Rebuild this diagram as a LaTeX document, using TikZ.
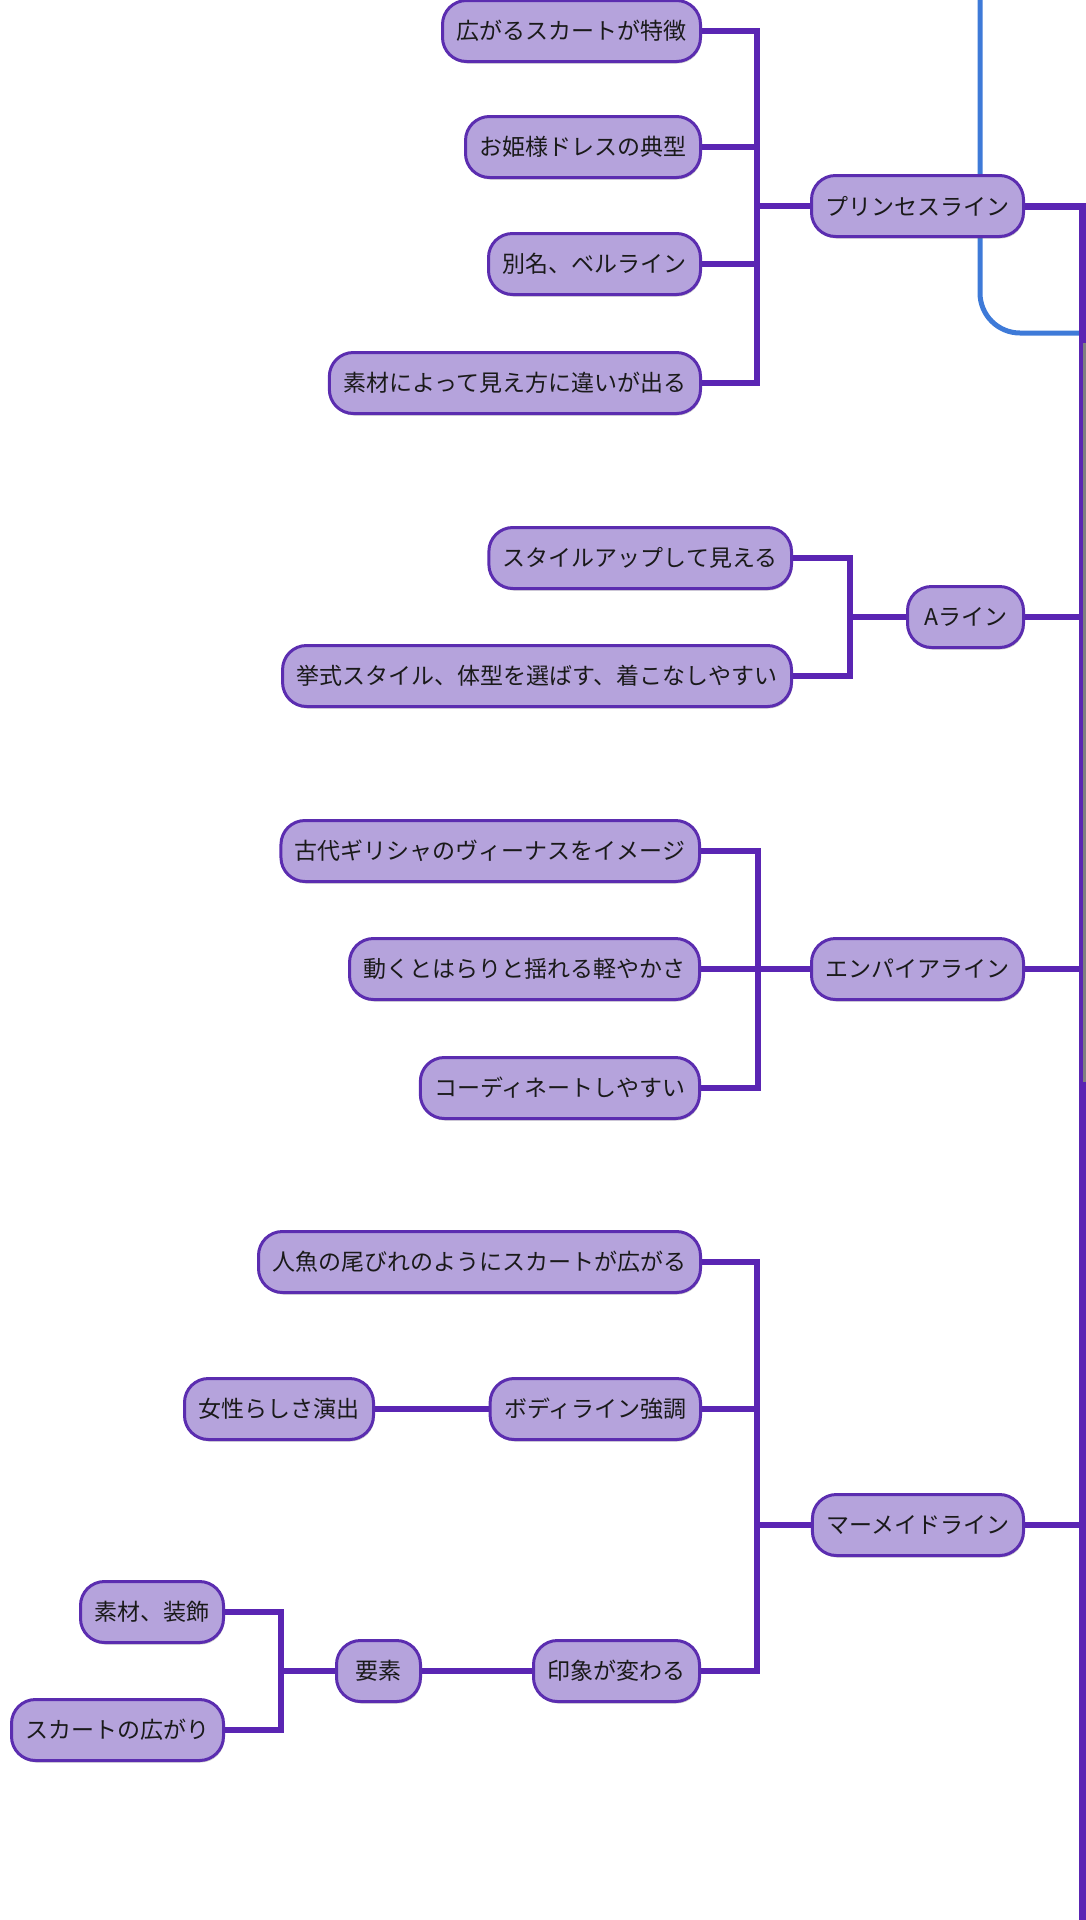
\documentclass[tikz,border=0pt]{standalone}
\usepackage{fontspec}
\setmainfont{Noto Sans CJK JP}
\usetikzlibrary{shadows,backgrounds}
\definecolor{fillc}{HTML}{B5A3DC}
\definecolor{bordc}{HTML}{5B2DB0}
\definecolor{linec}{HTML}{5A25B3}
\definecolor{bluec}{HTML}{3E7AD8}
\definecolor{txtc}{HTML}{1A1A1A}
\definecolor{stripc}{HTML}{808080}
\tikzset{
  nd/.style={rounded corners=24pt, draw=bordc, line width=3pt, fill=fillc,
    minimum height=61pt, inner xsep=14pt, inner ysep=0pt, text=txtc,
    font=\fontsize{23}{27}\selectfont, anchor=east,
    drop shadow={shadow xshift=1pt, shadow yshift=-2pt, opacity=0.35, fill=black!60}},
  br/.style={draw=linec, line width=6pt, line join=miter},
  trunk/.style={draw=linec, line width=7pt, line join=miter},
  blueln/.style={draw=bluec, line width=5pt, rounded corners=40pt}
}
\begin{document}
\begin{tikzpicture}[x=1pt,y=-1pt]
\useasboundingbox (0,0) rectangle (1085,1920);
% free-end coordinates
\coordinate (btop) at (980,-5);
\coordinate (bend) at (1082,333);
\coordinate (tb) at (1082,1925);
\coordinate (bp) at (757,206);
\coordinate (ba) at (850,617);
\coordinate (be) at (758,969);
\coordinate (bm) at (757,1525);
\coordinate (bx) at (281,1671);
% nodes
\node[nd] (pr) at (1025,206) {プリンセスライン};
\node[nd] (p1) at (702,31) {広がるスカートが特徴};
\node[nd] (p2) at (702,147) {お姫様ドレスの典型};
\node[nd] (p3) at (702,264) {別名、ベルライン};
\node[nd] (p4) at (702,383) {素材によって見え方に違いが出る};
\node[nd, minimum width=116pt, inner xsep=10pt] (al) at (1025,617) {Aライン};
\node[nd] (a1) at (793,558) {スタイルアップして見える};
\node[nd] (a2) at (793,676) {挙式スタイル、体型を選ばす、着こなしやすい};
\node[nd] (em) at (1025,969) {エンパイアライン};
\node[nd] (e1) at (701,851) {古代ギリシャのヴィーナスをイメージ};
\node[nd] (e2) at (701,969) {動くとはらりと揺れる軽やかさ};
\node[nd] (e3) at (701,1088) {コーディネートしやすい};
\node[nd] (mm) at (1025,1525) {マーメイドライン};
\node[nd] (m1) at (702,1262) {人魚の尾びれのようにスカートが広がる};
\node[nd] (m2) at (702,1409) {ボディライン強調};
\node[nd] (m2a) at (375,1409) {女性らしさ演出};
\node[nd] (m3) at (701,1671) {印象が変わる};
\node[nd, minimum width=84pt] (m3a) at (422,1671) {要素};
\node[nd] (m3a1) at (225,1612) {素材、装飾};
\node[nd] (m3a2) at (225,1730) {スカートの広がり};
% connectors behind nodes
\begin{scope}[on background layer]
  \draw[blueln] (btop) |- (bend);
  % trunk
  \draw[trunk] (pr.east) -| (tb);
  \draw[br] (al.east) -- (al.east -| tb);
  \draw[br] (em.east) -- (em.east -| tb);
  \draw[br] (mm.east) -- (mm.east -| tb);
  \fill[stripc] (1082.5,343) rectangle (1086,1082);
  % princess
  \draw[br] (pr.west) -- (bp);
  \draw[br] (p1.east) -| (bp);
  \draw[br] (p2.east) -| (bp);
  \draw[br] (p3.east) -| (bp);
  \draw[br] (p4.east) -| (bp);
  % A line
  \draw[br] (al.west) -- (ba);
  \draw[br] (a1.east) -| (ba);
  \draw[br] (a2.east) -| (ba);
  % empire
  \draw[br] (em.west) -- (be);
  \draw[br] (e1.east) -| (be);
  \draw[br] (e2.east) -| (be);
  \draw[br] (e3.east) -| (be);
  % mermaid
  \draw[br] (mm.west) -- (bm);
  \draw[br] (m1.east) -| (bm);
  \draw[br] (m2.east) -| (bm);
  \draw[br] (m3.east) -| (bm);
  \draw[br] (m2a.east) -- (m2.west);
  \draw[br] (m3a.east) -- (m3.west);
  \draw[br] (m3a.west) -- (bx);
  \draw[br] (m3a1.east) -| (bx);
  \draw[br] (m3a2.east) -| (bx);
\end{scope}
\end{tikzpicture}
\end{document}
